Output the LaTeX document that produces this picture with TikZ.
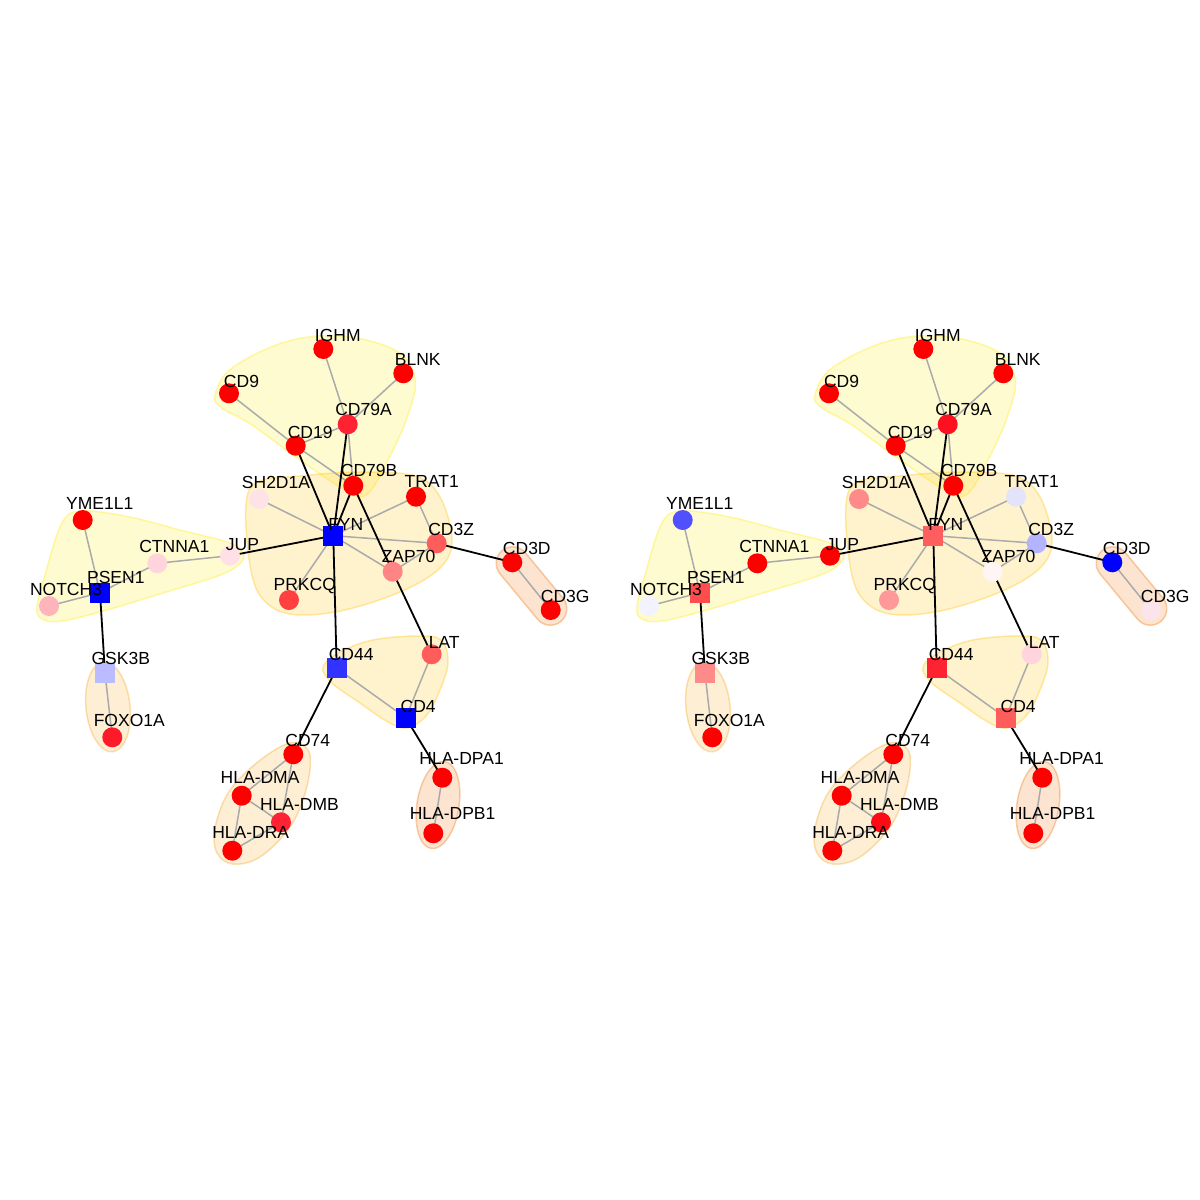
\documentclass[tikz,border=0pt]{standalone}
\usepackage{fontspec}
\setmainfont{Liberation Sans}
\pgfdeclarelayer{bg}
\pgfdeclarelayer{hull}
\pgfdeclarelayer{edge}
\pgfsetlayers{bg,hull,edge,main}
\definecolor{hYc}{RGB}{255,235,20}
\definecolor{hOc}{RGB}{255,195,10}
\definecolor{hPc}{RGB}{245,170,40}
\definecolor{hQc}{RGB}{240,120,20}
\definecolor{grayedge}{RGB}{170,170,170}
% left colours
\definecolor{LIGHM}{HTML}{FF0000}\definecolor{LBLNK}{HTML}{FF0000}\definecolor{LCD9}{HTML}{FF0000}
\definecolor{LCD79A}{HTML}{FF2233}\definecolor{LCD19}{HTML}{FF0000}\definecolor{LCD79B}{HTML}{FF0000}
\definecolor{LSH2D1A}{HTML}{FDE3E8}\definecolor{LTRAT1}{HTML}{FF0000}\definecolor{LFYN}{HTML}{0000FF}
\definecolor{LCD3Z}{HTML}{FF5C5C}\definecolor{LZAP70}{HTML}{FF8585}\definecolor{LJUP}{HTML}{FFE0E6}
\definecolor{LCTNNA1}{HTML}{FFD4DC}\definecolor{LYME1L1}{HTML}{FF0000}\definecolor{LPSEN1}{HTML}{0000FF}
\definecolor{LNOTCH3}{HTML}{FFB3BB}\definecolor{LPRKCQ}{HTML}{FF4040}\definecolor{LCD3D}{HTML}{FF0000}
\definecolor{LCD3G}{HTML}{FF0000}\definecolor{LGSK3B}{HTML}{BBBBFF}\definecolor{LFOXO1A}{HTML}{FF1A2A}
\definecolor{LCD44}{HTML}{3333FF}\definecolor{LLAT}{HTML}{FF5C5C}\definecolor{LCD4}{HTML}{0000FF}
\definecolor{LCD74}{HTML}{FF0000}\definecolor{LHLADMA}{HTML}{FF0000}\definecolor{LHLADMB}{HTML}{FF2233}
\definecolor{LHLADRA}{HTML}{FF0000}\definecolor{LHLADPA1}{HTML}{FF0000}\definecolor{LHLADPB1}{HTML}{FF0000}
% right colours
\definecolor{RIGHM}{HTML}{FF0000}\definecolor{RBLNK}{HTML}{FF0000}\definecolor{RCD9}{HTML}{FF0000}
\definecolor{RCD79A}{HTML}{FF1020}\definecolor{RCD19}{HTML}{FF0000}\definecolor{RCD79B}{HTML}{FF0000}
\definecolor{RSH2D1A}{HTML}{FF8A8A}\definecolor{RTRAT1}{HTML}{E3E3FA}\definecolor{RFYN}{HTML}{FF5E5E}
\definecolor{RCD3Z}{HTML}{B3B3FF}\definecolor{RZAP70}{HTML}{FFF5F5}\definecolor{RJUP}{HTML}{FF0000}
\definecolor{RCTNNA1}{HTML}{FF0000}\definecolor{RYME1L1}{HTML}{5050FF}\definecolor{RPSEN1}{HTML}{FF4D4D}
\definecolor{RNOTCH3}{HTML}{F3F3FF}\definecolor{RPRKCQ}{HTML}{FF9999}\definecolor{RCD3D}{HTML}{0000FF}
\definecolor{RCD3G}{HTML}{FCE4EC}\definecolor{RGSK3B}{HTML}{FF8A8A}\definecolor{RFOXO1A}{HTML}{FF0000}
\definecolor{RCD44}{HTML}{FF2233}\definecolor{RLAT}{HTML}{FFD4DC}\definecolor{RCD4}{HTML}{FF5C5C}
\definecolor{RCD74}{HTML}{FF0000}\definecolor{RHLADMA}{HTML}{FF0000}\definecolor{RHLADMB}{HTML}{FF0A14}
\definecolor{RHLADRA}{HTML}{FF0000}\definecolor{RHLADPA1}{HTML}{FF0000}\definecolor{RHLADPB1}{HTML}{FF0000}
\tikzset{
 cn/.style={circle,draw=none,minimum size=20pt,inner sep=0pt},
 sq/.style={rectangle,draw=none,minimum size=20pt,inner sep=0pt},
 lbl/.style={anchor=base,inner sep=0pt,font=\fontsize{17.5}{17.5}\selectfont},
 ge/.style={draw=grayedge,line width=1.5pt},
 be/.style={draw=black,line width=1.8pt},
 hullbase/.style={fill opacity=0.2,draw opacity=0.35,line width=1.5pt},
 hY/.style={hullbase,fill=hYc,draw=hYc},
 hO/.style={hullbase,fill=hOc,draw=hOc},
 hP/.style={hullbase,fill=hPc,draw=hPc},
 hQ/.style={hullbase,fill=hQc,draw=hQc},
}
\newcommand\vtx[5]{% prefix, name, shape, x, y
 \node[#3,fill=#1#2] (#1#2) at (#4,#5) {};}
\newcommand\vlab[4]{% prefix, name, number of letters, text
 \ifcase#3\or\or\or
  \def\ldx{12.5}\def\ldy{5.5}\or
  \def\ldx{14.5}\def\ldy{7.6}\or
  \def\ldx{15.8}\def\ldy{9.2}\or
  \def\ldx{17}\def\ldy{10.7}\or
  \def\ldx{18.4}\def\ldy{12.2}\or
  \def\ldx{19.3}\def\ldy{13.4}\fi
 \path (#1#2) ++(\ldx,-\ldy) node[lbl] (#1#2t) {#4};}
\newcommand\netgraph[1]{%
 \begin{pgfonlayer}{hull}
  \path[hY] plot[smooth cycle,tension=0.6] coordinates {(215,395) (232,368) (285,342) (340,336) (395,350) (415,378) (408,415) (388,460) (366,495) (342,488) (300,460) (252,425) (222,408)};
  \path[hO] plot[smooth cycle,tension=0.6] coordinates {(246,505) (258,482) (300,476) (360,472) (415,476) (440,497) (452,540) (440,568) (400,592) (340,611) (290,614) (262,598) (250,565)};
  \path[hY] plot[smooth cycle,tension=0.6] coordinates {(37,607) (45,575) (62,523) (82,511) (130,517) (180,530) (230,543) (244,555) (236,567) (215,577) (163,593) (107,610) (62,621) (42,619)};
  \path[hO] plot[smooth cycle,tension=0.6] coordinates {(323,667) (340,652) (373,640) (417,636) (441,640) (448,662) (440,690) (426,716) (407,728) (388,722) (360,703) (332,683)};
  \path[hP] plot[smooth cycle,tension=0.6] coordinates {(297,743) (310,755) (306,790) (290,827) (260,857) (233,864) (217,853) (215,828) (228,793) (253,766) (280,747)};
  \path[hP,rotate around={6:(108,707)}] (108,707) ellipse[x radius=22,y radius=45];
  \path[hQ,rotate around={-9:(438,805)}] (438,805) ellipse[x radius=21,y radius=44];
  \path[hQ,rotate around={-50.4:(531.5,586)},rounded corners=16.5] (485.5,569.5) rectangle (577.5,602.5);
 \end{pgfonlayer}
 \vtx{#1}{IGHM}{cn}{323.3}{349}
 \vtx{#1}{BLNK}{cn}{403.3}{373.3}
 \vtx{#1}{CD9}{cn}{229}{393.3}
 \vtx{#1}{CD79A}{cn}{347.7}{424.3}
 \vtx{#1}{CD19}{cn}{295.7}{445.7}
 \vtx{#1}{CD79B}{cn}{353.3}{485.7}
 \vtx{#1}{SH2D1A}{cn}{259}{499}
 \vtx{#1}{TRAT1}{cn}{416}{496.7}
 \vtx{#1}{FYN}{sq}{333.3}{535.7}
 \vtx{#1}{CD3Z}{cn}{436.7}{543.3}
 \vtx{#1}{ZAP70}{cn}{392.7}{571.7}
 \vtx{#1}{PRKCQ}{cn}{289}{600}
 \vtx{#1}{JUP}{cn}{230}{555.7}
 \vtx{#1}{CTNNA1}{cn}{157.3}{563.3}
 \vtx{#1}{YME1L1}{cn}{82.7}{520}
 \vtx{#1}{PSEN1}{sq}{100}{592.7}
 \vtx{#1}{NOTCH3}{cn}{49}{606}
 \vtx{#1}{CD3D}{cn}{512.3}{562.3}
 \vtx{#1}{CD3G}{cn}{550.7}{610}
 \vtx{#1}{GSK3B}{sq}{105}{673.3}
 \vtx{#1}{FOXO1A}{cn}{112.3}{737.3}
 \vtx{#1}{CD44}{sq}{336.7}{668.3}
 \vtx{#1}{LAT}{cn}{431.7}{654.3}
 \vtx{#1}{CD4}{sq}{405.7}{717.7}
 \vtx{#1}{CD74}{cn}{293.3}{754.3}
 \vtx{#1}{HLADMA}{cn}{241.7}{795.7}
 \vtx{#1}{HLADMB}{cn}{281}{822.3}
 \vtx{#1}{HLADRA}{cn}{232.3}{850.7}
 \vtx{#1}{HLADPA1}{cn}{442.3}{777.7}
 \vtx{#1}{HLADPB1}{cn}{433.3}{833.3}
 \begin{pgfonlayer}{edge}
  \foreach \a/\b in {IGHM/CD79A,BLNK/CD79A,CD9/CD19,CD19/CD79A,CD19/CD79B,CD79A/CD79B,
    FYN/SH2D1A,FYN/TRAT1,FYN/CD3Z,FYN/ZAP70,FYN/PRKCQ,TRAT1/CD3Z,CD3Z/ZAP70,
    YME1L1/PSEN1,NOTCH3/PSEN1,PSEN1/CTNNA1,CTNNA1/JUP,GSK3B/FOXO1A,CD44/CD4,LAT/CD4,
    CD74/HLADMA,CD74/HLADMB,HLADMA/HLADMB,HLADMA/HLADRA,HLADRA/HLADMB,HLADPA1/HLADPB1,CD3D/CD3G}
   {\draw[ge] (#1\a.center) -- (#1\b.center);}
  \foreach \a/\b in {CD19/FYN,CD79A/FYN,CD79B/FYN,CD79B/ZAP70,FYN/JUP,FYN/CD44,CD3Z/CD3D,
    ZAP70/LAT,PSEN1/GSK3B,CD44/CD74,CD4/HLADPA1}
   {\draw[be] (#1\a.center) -- (#1\b.center);}
 \end{pgfonlayer}
 \vlab{#1}{IGHM}{4}{IGHM}
 \vlab{#1}{BLNK}{4}{BLNK}
 \vlab{#1}{CD9}{3}{CD9}
 \vlab{#1}{CD79A}{5}{CD79A}
 \vlab{#1}{CD19}{4}{CD19}
 \vlab{#1}{CD79B}{5}{CD79B}
 \vlab{#1}{SH2D1A}{6}{SH2D1A}
 \vlab{#1}{TRAT1}{5}{TRAT1}
 \vlab{#1}{FYN}{3}{FYN}
 \vlab{#1}{CD3Z}{4}{CD3Z}
 \vlab{#1}{ZAP70}{5}{ZAP70}
 \vlab{#1}{PRKCQ}{5}{PRKCQ}
 \vlab{#1}{JUP}{3}{JUP}
 \vlab{#1}{CTNNA1}{6}{CTNNA1}
 \vlab{#1}{YME1L1}{6}{YME1L1}
 \vlab{#1}{PSEN1}{5}{PSEN1}
 \vlab{#1}{NOTCH3}{6}{NOTCH3}
 \vlab{#1}{CD3D}{4}{CD3D}
 \vlab{#1}{CD3G}{4}{CD3G}
 \vlab{#1}{GSK3B}{5}{GSK3B}
 \vlab{#1}{FOXO1A}{6}{FOXO1A}
 \vlab{#1}{CD44}{4}{CD44}
 \vlab{#1}{LAT}{3}{LAT}
 \vlab{#1}{CD4}{3}{CD4}
 \vlab{#1}{CD74}{4}{CD74}
 \vlab{#1}{HLADMA}{7}{HLA-DMA}
 \vlab{#1}{HLADMB}{7}{HLA-DMB}
 \vlab{#1}{HLADRA}{7}{HLA-DRA}
 \vlab{#1}{HLADPA1}{8}{HLA-DPA1}
 \vlab{#1}{HLADPB1}{8}{HLA-DPB1}
}
\begin{document}
\begin{tikzpicture}[x=1pt,y=-1pt]
 \begin{pgfonlayer}{bg}
  \fill[white] (0,0) rectangle (1200,1200);
 \end{pgfonlayer}
 \useasboundingbox (0,0) rectangle (1200,1200);
 \netgraph{L}
 \begin{scope}[xshift=600pt]
  \netgraph{R}
 \end{scope}
\end{tikzpicture}
\end{document}
